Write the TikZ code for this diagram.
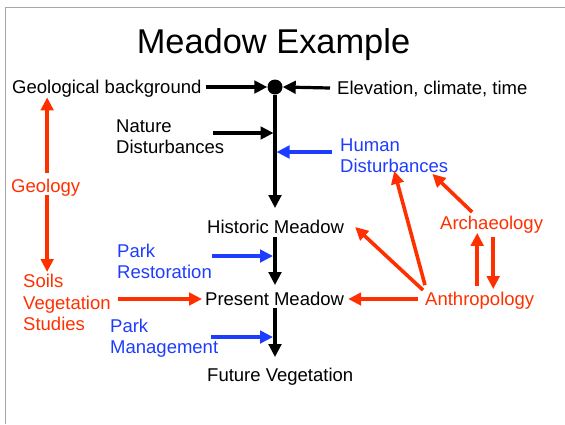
\documentclass[tikz,border=0pt]{standalone}
\usepackage{fontspec}
\setmainfont{Liberation Sans}
\usetikzlibrary{arrows.meta}
\definecolor{slidered}{RGB}{255,48,0}
\definecolor{slideblue}{RGB}{30,60,255}
\begin{document}
\begin{tikzpicture}[x=1pt,y=-1pt,
  lbl/.style={inner sep=0pt,anchor=west,align=left,font=\fontsize{18.5}{21.5}\selectfont},
  line/.style={lbl,text height=15.3pt,text depth=2.1pt},
  flow/.style={line width=3.2pt,-{Triangle[length=13pt,width=12.5pt]}},
  redflow/.style={flow,slidered,line width=3.6pt},
  blueflow/.style={flow,slideblue}]
  \useasboundingbox (0,0) rectangle (565,424);
  \draw[gray!70,line width=1pt] (5,424) -- (5,7) -- (565,7);
  \node[inner sep=0pt,anchor=base,font=\fontsize{34.4}{40}\selectfont] (title) at (273.5,53) {Meadow Example};
  \node[line] (geo) at (12,87) {Geological background};
  \node[circle,fill,inner sep=0pt,minimum size=15pt] (dot) at (275,87) {};
  \node[line] (elev) at (337,88) {Elevation, climate, time};
  \node[lbl] (nat) at (116,136.5) {Nature\\Disturbances};
  \node[lbl,text=slideblue] (hum) at (340,155.5) {Human\\Disturbances};
  \node[line] (hist) at (207,227) {Historic Meadow};
  \node[lbl,text=slideblue] (rest) at (117,261.5) {Park\\Restoration};
  \node[line] (pres) at (205,299) {Present Meadow};
  \node[lbl,text=slidered] (soil) at (23,302.5) {Soils\\Vegetation\\Studies};
  \node[lbl,text=slideblue] (mgmt) at (110,338) {Park\\Management};
  \node[line] (fut) at (207,375) {Future Vegetation};
  \node[line,text=slidered] (geol) at (11,186) {Geology};
  \node[line,text=slidered] (arch) at (440,223) {Archaeology};
  \node[line,text=slidered] (anth) at (425,299) {Anthropology};
  % main trunk
  \draw[flow,shorten >=10pt] (dot) -- (dot |- hist.north);
  \draw[flow,shorten <=1pt,shorten >=5pt] (hist.south -| dot) -- (pres.north -| dot);
  \draw[flow,shorten >=9pt] (pres.south -| dot) -- (fut.north -| dot);
  % inputs to the trunk
  \draw[flow] ([xshift=4pt]geo.east) -- (dot.west);
  \draw[flow] ([xshift=-7pt]elev.west) -- (dot.east);
  \draw[flow] ([xshift=-11pt,yshift=3.5pt]nat.east) -- ([xshift=-1.5pt,yshift=3.5pt]dot |- nat.east);
  \draw[blueflow] ([xshift=-8pt,yshift=3.5pt]hum.west) -- ([xshift=1.5pt,yshift=3.5pt]dot |- hum.west);
  \draw[blueflow] ([xshift=-0.5pt,yshift=5.5pt]rest.east) -- ([xshift=-2pt,yshift=5.5pt]dot |- rest.east);
  \draw[blueflow] ([xshift=-7pt,yshift=1pt]mgmt.east) -- ([xshift=-2pt,yshift=1pt]dot |- mgmt.east);
  \draw[redflow] ([xshift=7.5pt]soil.east |- pres.west) -- ([xshift=-3pt]pres.west);
  % geology column
  \draw[redflow,shorten >=1.5pt] ([xshift=1.5pt,yshift=4pt]geol.north) -- ([xshift=1.5pt]geol.north |- geo.south);
  \draw[redflow] ([xshift=1.5pt]geol.south) -- ([xshift=1.5pt,yshift=2pt]geol.south |- soil.north);
  % anthropology and archaeology
  \draw[redflow] ([xshift=-7pt]anth.west) -- ([xshift=4pt]pres.east);
  \draw[redflow] ([xshift=-2pt]anth.north west) -- ([xshift=11pt]hist.east);
  \draw[redflow] ([yshift=5pt]anth.north west) -- ([yshift=2pt]hum.south);
  \draw[redflow] ([xshift=-19.5pt,yshift=2pt]arch.north) -- ([xshift=-16pt,yshift=-1pt]hum.south east);
  \draw[redflow] ([xshift=-2.5pt,yshift=4pt]anth.north) -- ([xshift=-2.5pt,yshift=-1pt]anth.north |- arch.south);
  \draw[redflow] ([xshift=13.5pt,yshift=-5pt]anth.north |- arch.south) -- ([xshift=13.5pt,yshift=1pt]anth.north);
\end{tikzpicture}
\end{document}
